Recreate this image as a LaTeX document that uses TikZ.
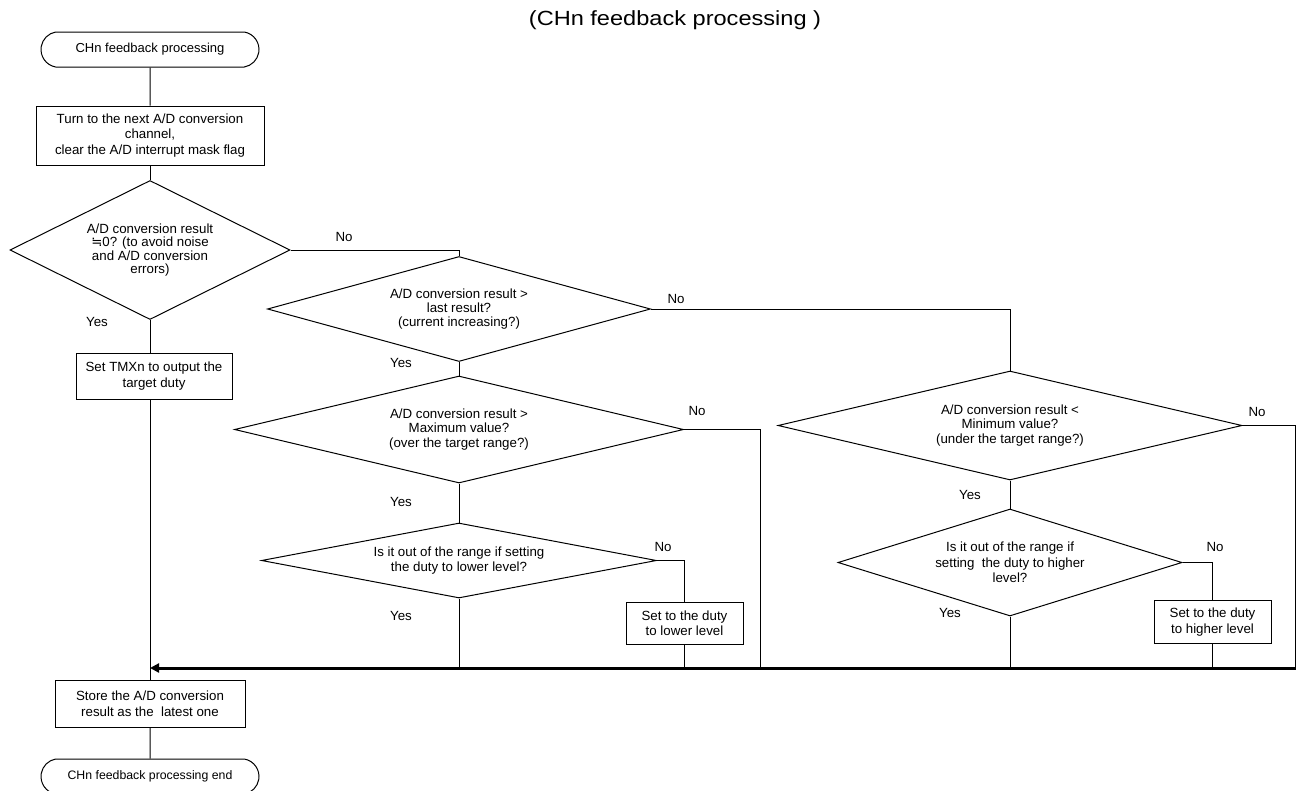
\documentclass[tikz,border=0pt]{standalone}
\usepackage{fontspec}
\setmainfont{Liberation Sans}
\newfontfamily\symfont{DejaVu Sans}
\newfontfamily\headfont[FakeStretch=1.15]{Liberation Sans}
\usetikzlibrary{shapes.geometric,shapes.misc,arrows.meta}

\begin{document}
\begin{tikzpicture}[x=1pt,y=-1pt,
  every node/.style={font=\fontsize{13.3}{15.5}\selectfont},
  terminal/.style={draw, line width=1pt, rounded rectangle, rounded rectangle arc length=160,
    minimum width=218pt, minimum height=35pt, inner sep=0pt,
    font=\fontsize{13}{14}\selectfont},
  procbox/.style={draw, line width=1pt, rectangle, align=center, inner sep=0pt},
  decision/.style={draw, line width=1pt, diamond, align=center, inner sep=0pt},
  lbl/.style={inner sep=0pt},
  flow/.style={line width=1pt},
  bus/.style={line width=3pt, -{Triangle[length=9pt,width=9pt]}}
]
\useasboundingbox (0,0) rectangle (1296,790);

% heading
\node[lbl, font=\headfont\fontsize{20.5}{24}\selectfont] (title) at (675,20) {(CHn feedback processing )};

% main column
\node[terminal] (start) at (150,49.5) {CHn feedback processing};
\node[procbox, minimum width=228pt, minimum height=59pt] (turn) at (150,135.5)
  {Turn to the next A/D conversion\\channel,\\clear the A/D interrupt mask flag};
\node[decision, aspect=2, minimum width=280pt, minimum height=139pt,
  font=\fontsize{13.3}{13.5}\selectfont] (dzero) at (150,250)
  {A/D conversion result\\{\symfont ≒}0? (to avoid noise\\and A/D conversion\\errors)};
\node[procbox, minimum width=156pt, minimum height=46pt] (target) at (154,376)
  {Set TMXn to output the\\target duty};
\node[procbox, minimum width=190pt, minimum height=47pt] (store) at (150,703.5)
  {Store the A/D conversion\\result as the\ \ latest one};
\node[terminal, font=\fontsize{12.3}{14}\selectfont] (finish) at (150,776.5) {CHn feedback processing end};

% comparison with the last result
\node[decision, aspect=3.65, minimum width=383pt, minimum height=105pt,
  font=\fontsize{13.3}{14}\selectfont] (dlast) at (459,309)
  {A/D conversion result >\\last result?\\(current increasing?)};

% increasing branch
\node[decision, aspect=4.2, minimum width=449pt, minimum height=107pt,
  font=\fontsize{13.3}{14.5}\selectfont] (dmax) at (459,429.5)
  {A/D conversion result >\\Maximum value?\\(over the target range?)};
\node[decision, aspect=5.27, minimum width=395pt, minimum height=75pt] (dlow) at (459,560.5)
  {Is it out of the range if setting\\the duty to lower level?};
\node[procbox, minimum width=117pt, minimum height=42pt] (lower) at (684.5,623)
  {Set to the duty\\to lower level};

% decreasing branch
\node[decision, aspect=4.26, minimum width=464pt, minimum height=109pt,
  font=\fontsize{13.3}{14.5}\selectfont] (dmin) at (1010,425.5)
  {A/D conversion result <\\Minimum value?\\(under the target range?)};
\node[decision, aspect=3.2, minimum width=344pt, minimum height=107pt] (dhigh) at (1010,562.5)
  {Is it out of the range if\\setting\ \ the duty to higher\\level?};
\node[procbox, minimum width=117pt, minimum height=43pt] (higher) at (1212.5,622)
  {Set to the duty\\to higher level};

% branch labels
\node[lbl] (nzero) at (344,237) {No};
\node[lbl] (yzero) at (97,322) {Yes};
\node[lbl] (nlast) at (676,299) {No};
\node[lbl] (ylast) at (401,363) {Yes};
\node[lbl] (nmax) at (697,411) {No};
\node[lbl] (ymax) at (401,502) {Yes};
\node[lbl] (nmin) at (1257,412) {No};
\node[lbl] (ymin) at (970,495) {Yes};
\node[lbl] (nlow) at (663,547) {No};
\node[lbl] (ylow) at (401,616) {Yes};
\node[lbl] (nhigh) at (1215,547) {No};
\node[lbl] (yhigh) at (950,613) {Yes};

% merge line
\coordinate (merge) at (150,668);
\coordinate (busend) at (1296,668);
\coordinate (maxno) at (760,668);
\coordinate (minno) at (1295,668);

% connectors
\draw[flow] (start) -- (turn);
\draw[flow] (turn) -- (dzero);
\draw[flow] (dzero.south) -- (dzero.south |- target.north);
\draw[flow] (dzero.south |- target.south) -- (store.north);
\draw[flow] (store) -- (finish);
\draw[flow] (dzero.east) -| (dlast.north);
\draw[flow] (dlast.east) -| (dmin.north);
\draw[flow] (dlast.south) -- (dmax.north);
\draw[flow] (dmax.east) -| (maxno);
\draw[flow] (dmax.south) -- (dlow.north);
\draw[flow] (dlow.east) -| (lower.north);
\draw[flow] (lower.south) -- (lower.south |- merge);
\draw[flow] (dlow.south) -- (dlow.south |- merge);
\draw[flow] (dmin.east) -| (minno);
\draw[flow] (dmin.south) -- (dhigh.north);
\draw[flow] (dhigh.east) -| (higher.north);
\draw[flow] (higher.south) -- (higher.south |- merge);
\draw[flow] (dhigh.south) -- (dhigh.south |- merge);
\draw[bus] (busend) -- (merge);
\end{tikzpicture}
\end{document}
